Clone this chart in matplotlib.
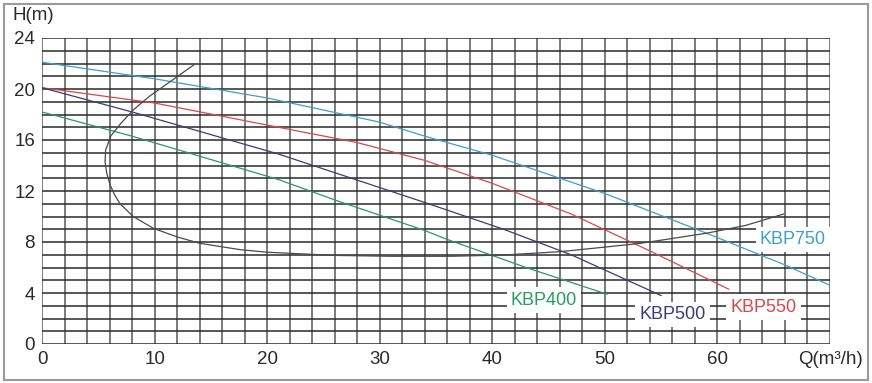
import numpy as np
import matplotlib
matplotlib.use("Agg")
import matplotlib.pyplot as plt
from matplotlib.patches import Rectangle

plt.rcParams['font.family'] = ['Liberation Sans', 'DejaVu Sans']

# pump curves (Q in m3/h, H in m)
q750 = [0, 10, 20, 30, 34, 40, 47, 50, 59, 66, 70]
h750 = [22.1, 20.8, 19.3, 17.4, 16.3, 14.8, 12.7, 11.8, 8.7, 6.2, 4.6]

q550 = [0, 10, 21, 28, 34, 40, 47, 54, 61]
h550 = [20.1, 18.9, 17.0, 15.8, 14.4, 12.6, 10.2, 7.3, 4.3]

q500 = [0, 8, 21, 34, 41, 47, 55]
h500 = [20.1, 18.2, 14.9, 11.1, 9.0, 7.0, 3.8]

q400 = [0, 8, 21, 26, 34, 36, 43, 50.2]
h400 = [18.2, 16.3, 12.9, 11.3, 8.9, 8.2, 6.0, 3.9]

# system / efficiency curve
qsys = [13.5, 11.1, 9.5, 8.1, 7.0, 6.1, 5.65, 5.6, 5.75, 6.04, 6.45, 6.93, 8.1, 9.9,
        12, 14, 17.6, 20, 25.9, 31, 36.3, 41, 46, 50, 53.2, 59.1, 62.5, 65.9]
hsys = [21.9, 20.4, 19.4, 18.35, 17.3, 16.3, 15.2, 14.3, 13.4, 12.5, 11.7, 11.0, 10.0, 9.07,
        8.4, 7.9, 7.4, 7.2, 6.95, 6.88, 6.88, 6.98, 7.24, 7.6, 7.9, 8.7, 9.3, 10.2]

xticks = [0, 10, 20, 30, 40, 50, 60]
yticks = [0, 4, 8, 12, 16, 20, 24]

fig = plt.figure(figsize=(8.72, 3.83), dpi=100)
ax = fig.add_axes([42/872, 1-344/383, 788/872, 306/383])

# grid: vertical every 2, horizontal every 1
for x in range(0, 71, 2):
    ax.axvline(x, color='#7a7a7a', lw=1.4, zorder=1)
for y in range(0, 25):
    ax.axhline(y, color='#2a2a2a', lw=1.1, zorder=1)

ax.plot(q750, h750, color='#3d9fcc', lw=0.9, zorder=3)
ax.plot(q550, h550, color='#d9474a', lw=0.9, zorder=3)
ax.plot(q500, h500, color='#3b3b7a', lw=0.9, zorder=3)
ax.plot(q400, h400, color='#2a9a62', lw=0.9, zorder=3)
ax.plot(qsys, hsys, color='#4a4a4a', lw=0.9, zorder=3)

box = dict(facecolor='white', edgecolor='none', pad=3)
ax.text(66.7, 8.2, 'KBP750', color='#3d9fcc', fontsize=13, ha='center', va='center', bbox=box, zorder=4)
ax.text(44.6, 3.45, 'KBP400', color='#2a9a62', fontsize=13, ha='center', va='center', bbox=box, zorder=4)
ax.text(56.0, 2.3, 'KBP500', color='#3b3b7a', fontsize=13, ha='center', va='center', bbox=box, zorder=4)
ax.text(64.1, 2.9, 'KBP550', color='#d9474a', fontsize=13, ha='center', va='center', bbox=box, zorder=4)

ax.set_xlim(0, 70)
ax.set_ylim(0, 24)
ax.set_xticks(xticks)
ax.set_yticks(yticks)
ax.tick_params(length=0, labelsize=13.5, colors='#2a2a2a', pad=5)
for s in ax.spines.values():
    s.set_visible(False)

fig.text(12/872, 1-16/383, 'H(m)', fontsize=13.5, color='#2a2a2a', va='center', ha='left')
fig.text(863/872, 1-360/383, 'Q(m³/h)', fontsize=13.5, color='#2a2a2a', va='center', ha='right')

# outer frame
fig.patches.append(Rectangle((4/872, 3/383), 864/872, 376/383, transform=fig.transFigure,
                             fill=False, edgecolor='#9a9a9a', lw=1.5))

plt.savefig('out.png', dpi=100)
